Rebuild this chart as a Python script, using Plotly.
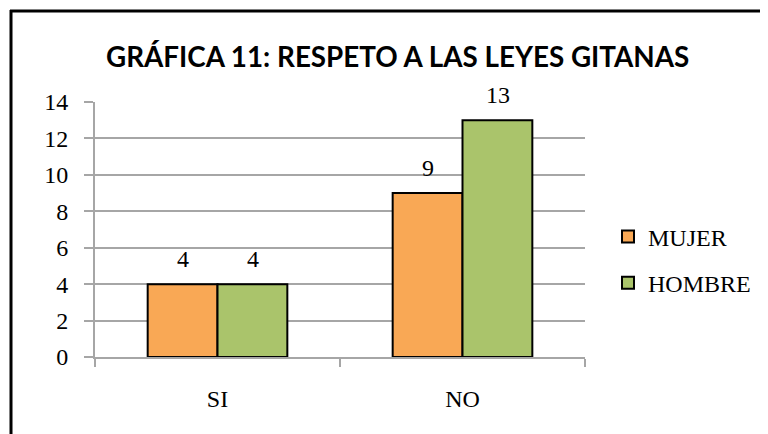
import plotly.graph_objects as go

categories = ["SI", "NO"]
mujer = [4, 9]
hombre = [4, 13]
series_names = ["MUJER", "HOMBRE"]
y_ticks = [0, 2, 4, 6, 8, 10, 12, 14]
title_text = "GRÁFICA 11: RESPETO A LAS LEYES GITANAS"

orange = "#F9A855"
green = "#AAC46B"
grid = "#A6A6A6"
serif = "Liberation Serif"

# page body has an 8px margin: figure coords = screen coords - 8
OFF = 8
W, H = 768 - OFF, 434 - OFF
L, R, T, B = 95 - OFF, 183, 102 - OFF, 77
pw, ph = W - L - R, H - T - B

def px_x(p):
    return (p - OFF - L) / pw

def px_y(p):
    return (H - B - (p - OFF)) / ph

fig = go.Figure()
fig.add_trace(go.Bar(x=categories, y=mujer, name=series_names[0], legendgroup="a",
                     marker=dict(color=orange, line=dict(color="black", width=2))))
fig.add_trace(go.Bar(x=categories, y=hombre, name=series_names[1], legendgroup="b",
                     marker=dict(color=green, line=dict(color="black", width=2))))

annotations = []
for vals, shift in ((mujer, -35), (hombre, 35)):
    for c, v in zip(categories, vals):
        annotations.append(dict(x=c, y=v, xref="x", yref="y", text=str(v), showarrow=False,
                                xshift=shift, yshift=25, yanchor="middle",
                                font=dict(family=serif, size=24, color="black")))
annotations.append(dict(x=px_x(397), y=px_y(57), xref="paper", yref="paper", text="<b>" + title_text + "</b>",
                        showarrow=False, xanchor="center", yanchor="middle",
                        font=dict(family="Lato", size=27.8, color="black")))

border = dict(color="black", width=3)
fig.update_layout(
    width=W, height=H,
    margin=dict(l=L, r=R, t=T, b=B),
    paper_bgcolor="white", plot_bgcolor="white",
    barmode="group", bargap=0.43, bargroupgap=0,
    annotations=annotations,
    legend=dict(x=px_x(608), y=px_y(260), xanchor="left", yanchor="middle",
                font=dict(family=serif, size=24, color="black"),
                tracegroupgap=12, itemclick=False, itemwidth=30),
    shapes=[
        dict(type="line", xref="paper", yref="paper", x0=px_x(11), x1=px_x(11),
             y0=px_y(440), y1=px_y(10), line=border),
        dict(type="line", xref="paper", yref="paper", x0=px_x(10), x1=px_x(775),
             y0=px_y(11), y1=px_y(11), line=border),
    ],
)
fig.update_xaxes(type="category", showline=True, linecolor=grid, linewidth=2,
                 ticks="outside", tickson="boundaries", ticklen=8, tickcolor=grid, tickwidth=2,
                 showgrid=False, tickfont=dict(family=serif, size=24, color="black"),
                 ticklabelstandoff=19)
fig.update_yaxes(range=[0, 14], tickvals=y_ticks, showline=True, linecolor=grid, linewidth=2,
                 ticks="outside", ticklen=9, tickcolor=grid, tickwidth=2,
                 showgrid=True, gridcolor=grid, gridwidth=2, zeroline=False,
                 tickfont=dict(family=serif, size=24, color="black"), ticklabelstandoff=11)

fig.write_html("out.html")
